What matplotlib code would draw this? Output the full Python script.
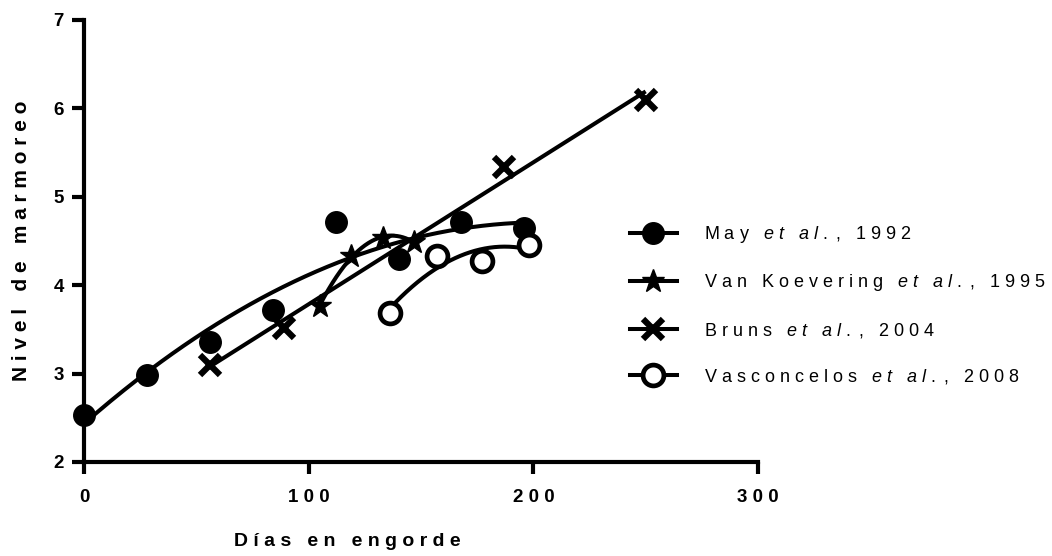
import numpy as np
import matplotlib
matplotlib.use("Agg")
import matplotlib.pyplot as plt
from matplotlib.lines import Line2D

plt.rcParams["font.family"] = ["Liberation Sans", "DejaVu Sans"]
plt.rcParams["mathtext.fontset"] = "custom"
plt.rcParams["mathtext.rm"] = "Liberation Sans"
plt.rcParams["mathtext.it"] = "Liberation Sans:italic"

# data
may_x = [0, 28, 56, 84, 112, 140, 168, 196]
may_y = [2.53, 2.98, 3.36, 3.72, 4.71, 4.30, 4.71, 4.65]

vank_x = [105, 119, 133, 147]
vank_y = [3.77, 4.33, 4.53, 4.49]

bruns_x = [56, 89, 187, 250]
bruns_y = [3.10, 3.52, 5.34, 6.10]

vasc_x = [136, 157, 177, 198]
vasc_y = [3.69, 4.33, 4.27, 4.45]

authors = ["May", "Van Koevering", "Bruns", "Vasconcelos"]
years = ["1992", "1995", "2004", "2008"]
fit_degree = [2, 2, 1, 2]

x_ticks = [0, 100, 200, 300]
y_ticks = [2, 3, 4, 5, 6, 7]
x_title = "Días en engorde"
y_title = "Nivel de marmoreo"


def spaced(s):
    # Prism-style wide letter spacing
    return " ".join(s)


def cite(author, year):
    return spaced(author) + "   " + r"$\mathit{e\ t\ \ \ a\ l\ .}$" + " " + spaced(", " + year)


series = [
    (may_x, may_y, dict(marker="o", ms=15.5, mfc="black", mec="black", mew=1)),
    (vank_x, vank_y, dict(marker="*", ms=17, mfc="black", mec="black", mew=1)),
    (bruns_x, bruns_y, dict(marker="x", ms=14, mec="black", mew=4.5)),
    (vasc_x, vasc_y, dict(marker="o", ms=15, mfc="white", mec="black", mew=3.4)),
]

fig = plt.figure(figsize=(10.52, 5.56), dpi=100)
ax = fig.add_axes([84 / 1052, 94 / 556, 674 / 1052, 442 / 556])

handles = []
for (xs, ys, style), deg, author, year in zip(series, fit_degree, authors, years):
    coef = np.polyfit(xs, ys, deg)
    xf = np.linspace(min(xs), max(xs), 200)
    ax.plot(xf, np.polyval(coef, xf), color="black", lw=2.9, zorder=2,
            solid_capstyle="butt")
    ax.plot(xs, ys, ls="none", color="black", zorder=3, clip_on=False, **style)
    handles.append(Line2D([], [], color="black", lw=2.9, label=cite(author, year), **style))

ax.set_xlim(0, 300)
ax.set_ylim(2, 7)
ax.set_xticks(x_ticks)
ax.set_xticklabels([spaced(str(t)) for t in x_ticks])
ax.set_yticks(y_ticks)
ax.set_yticklabels([str(t) for t in y_ticks])

for side in ["top", "right"]:
    ax.spines[side].set_visible(False)
for side in ["left", "bottom"]:
    ax.spines[side].set_linewidth(3)
ax.tick_params(width=3, length=8.5, labelsize=13.5)
ax.tick_params(axis="x", pad=11)
ax.tick_params(axis="y", pad=6)
for lab in ax.get_xticklabels() + ax.get_yticklabels():
    lab.set_fontweight("bold")

ax.set_xlabel(spaced(x_title), fontsize=14, fontweight="bold")
ax.set_ylabel(spaced(y_title), fontsize=15, fontweight="bold")
ax.xaxis.set_label_coords(0.39, -0.16)
ax.yaxis.set_label_coords(-0.078, 0.5)

fig.legend(handles=handles, loc="center left", bbox_to_anchor=(630 / 1052, 1 - 305 / 556),
           frameon=False, fontsize=13, numpoints=1, handlelength=2.6,
           handletextpad=1.5, labelspacing=1.5, borderpad=0, borderaxespad=0)

fig.savefig("out.png", dpi=100)
